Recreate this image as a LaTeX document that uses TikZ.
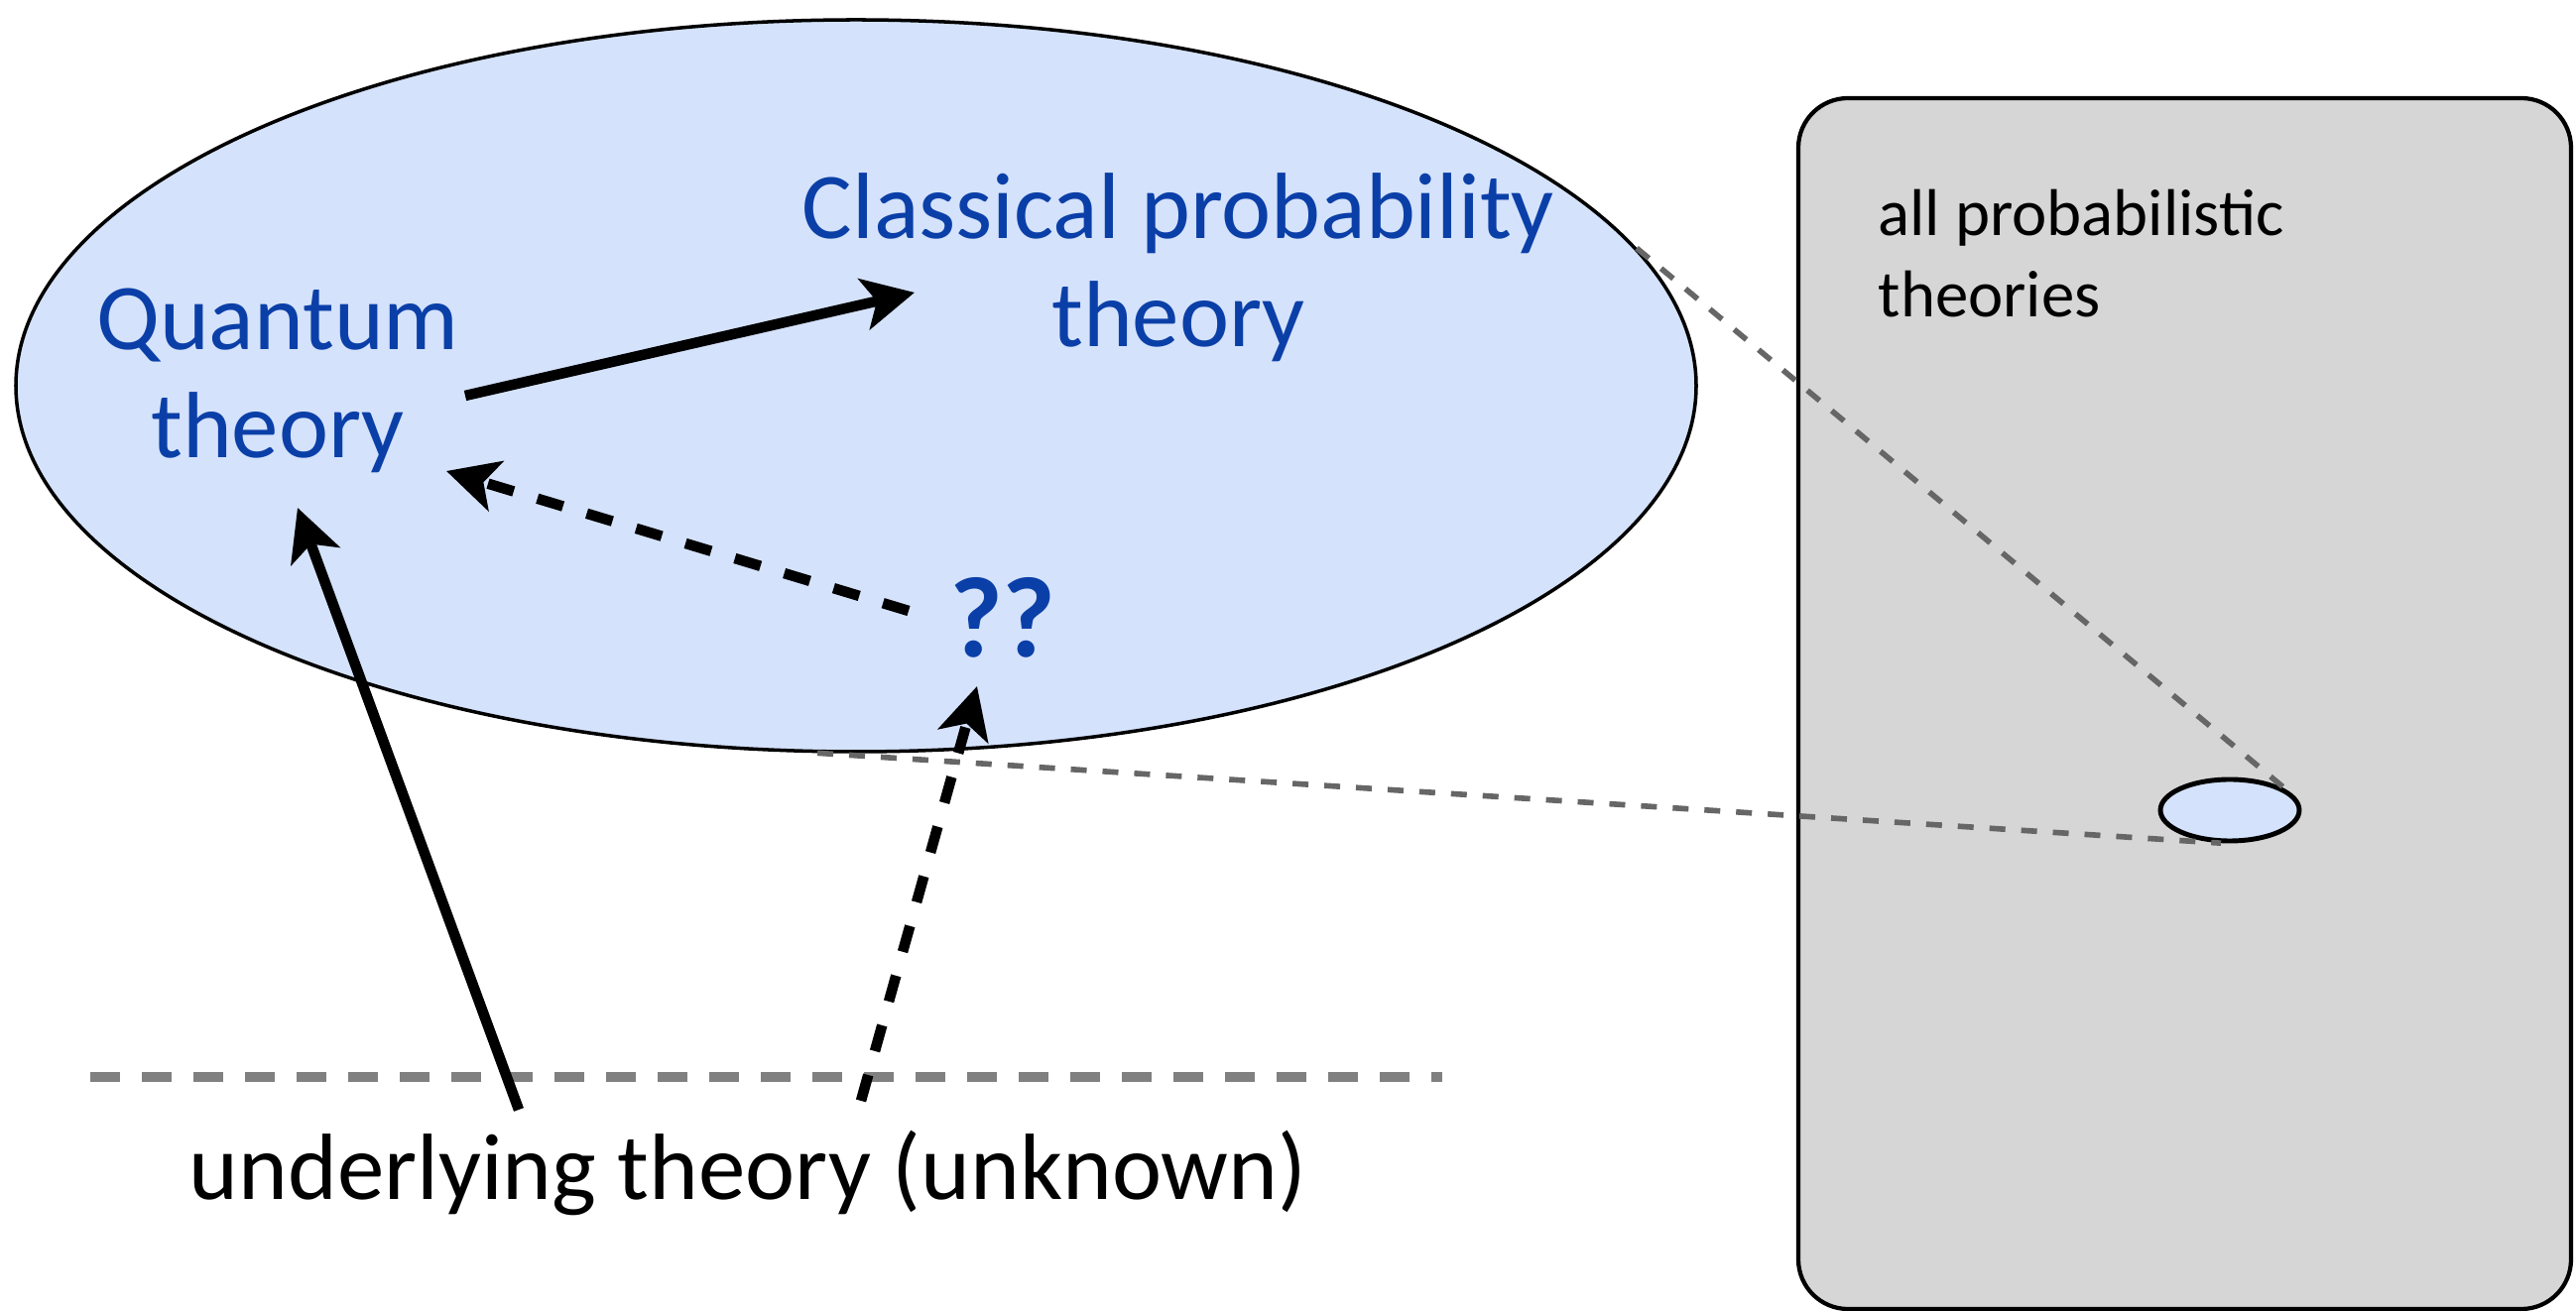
\documentclass[tikz,border=0pt]{standalone}
\usepackage{fontspec}
\setmainfont{Carlito}
\usepackage{tikz}
\usepackage{xcolor}
\usetikzlibrary{arrows.meta,positioning,shapes.geometric}
\definecolor{theoryblue}{HTML}{0B3FA8}
\definecolor{cloudfill}{HTML}{D4E2FB}
\definecolor{panelgray}{HTML}{D6D6D6}
\definecolor{zoomgray}{HTML}{666666}
\definecolor{floorgray}{HTML}{808080}
\tikzset{
  blob/.style={ellipse,draw=black,fill=cloudfill,line width=1pt,inner sep=0pt},
  miniblob/.style={ellipse,draw=black,fill=cloudfill,line width=1.4pt,inner sep=0pt},
  panelbox/.style={draw=black,fill=panelgray,line width=1.2pt,rounded corners=0.5cm,
                   inner sep=0pt},
  bluetext/.style={text=theoryblue,align=center,inner sep=0pt,
                   font=\fontsize{27}{31}\selectfont},
  blacktext/.style={text=black,align=center,inner sep=0pt,
                    font=\fontsize{27}{31}\selectfont},
  paneltext/.style={text=black,align=left,inner sep=0pt,
                    font=\fontsize{19}{23.5}\selectfont},
  blackarr/.style={-{Stealth[length=0.52cm,width=0.52cm,inset=0.13cm]},
                   line width=3pt,draw=black},
  dasharr/.style={blackarr,dash pattern=on 0.27cm off 0.25cm},
  zoomline/.style={draw=zoomgray,line width=1.6pt,dash pattern=on 0.16cm off 0.16cm},
  floorline/.style={draw=floorgray,line width=2.8pt,dash pattern=on 0.30cm off 0.22cm}
}
\begin{document}
\begin{tikzpicture}[x=1cm,y=1cm]
    \path[use as bounding box] (0,0) rectangle (25.97,13.22);

    \node[panelbox,minimum width=7.79cm,minimum height=12.21cm]
      (panel) at (22.025,6.125) {};
    \node[blob,minimum width=16.94cm,minimum height=7.38cm]
      (core) at (8.63,9.33) {};
    \node[miniblob,minimum width=1.40cm,minimum height=0.62cm]
      (mini) at (22.48,5.05) {};

    \draw[zoomline] (core.10) -- (mini.20);
    \draw[zoomline] (core.264) -- (mini.255);

    \node[bluetext] (quantum) at (2.80,9.38) {Quantum\\theory};
    \node[bluetext] (classical) at (11.88,10.52) {Classical probability\\theory};
    \node[bluetext,font=\fontsize{33}{36}\bfseries] (unknowns) at (10.11,6.99) {??};
    \node[blacktext,anchor=base] (underlying) at (7.54,1.12)
      {underlying theory (unknown)};
    \node[paneltext,anchor=north west] (allprob) at (18.93,11.32)
      {all probabilistic\\theories};

    \coordinate (floorleft) at (0.91,2.36);
    \coordinate (floorright) at (14.54,2.36);
    \draw[floorline] (floorleft) -- (floorright);

    \coordinate (qc0) at (4.69,9.23);
    \coordinate (qc1) at (9.22,10.27);
    \coordinate (xq0) at (9.16,7.06);
    \coordinate (xq1) at (4.50,8.47);
    \coordinate (uq0) at (5.23,2.03);
    \coordinate (uq1) at (3.00,8.10);
    \coordinate (ux0) at (8.68,2.12);
    \coordinate (ux1) at (9.85,6.30);

    \draw[blackarr] (qc0) -- (qc1);
    \draw[dasharr] (xq0) -- (xq1);
    \draw[blackarr] (uq0) -- (uq1);
    \draw[dasharr] (ux0) -- (ux1);
  \end{tikzpicture}
\end{document}
